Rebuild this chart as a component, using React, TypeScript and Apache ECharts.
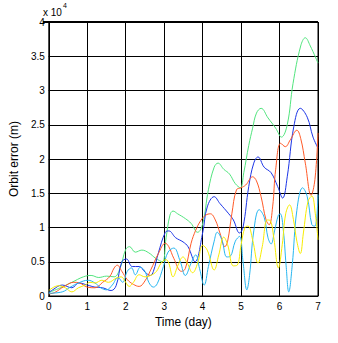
import React, { useEffect, useRef } from "react";
import * as echarts from "echarts";

// Units: x in days, y in 10^4 m
const xTickValues = [0, 1, 2, 3, 4, 5, 6, 7];
const yTickValues = [0, 0.5, 1, 1.5, 2, 2.5, 3, 3.5, 4];
const seriesNames = ["S1", "S2", "S3", "S4", "S5"];
const seriesColors = ["#52e47e", "#1c35e6", "#ff5a28", "#26b6f0", "#f7ec00"];

const greenData: [number, number][] = [
  [0, 0.05], [0.3, 0.12], [0.6, 0.2], [0.9, 0.28], [1.1, 0.3], [1.3, 0.27], [1.5, 0.29], [1.7, 0.28],
  [1.85, 0.4], [2.0, 0.68], [2.1, 0.72], [2.25, 0.64], [2.42, 0.67], [2.6, 0.63], [2.78, 0.55], [2.95, 0.5],
  [3.05, 0.85], [3.15, 1.18], [3.23, 1.24], [3.35, 1.2], [3.55, 1.13], [3.7, 1.06], [3.87, 0.93],
  [4.0, 1.05], [4.15, 1.55], [4.3, 1.88], [4.4, 1.94], [4.55, 1.85], [4.7, 1.78], [4.85, 1.64],
  [4.98, 1.58], [5.07, 1.8], [5.2, 2.2], [5.3, 2.45], [5.4, 2.67], [5.52, 2.74], [5.7, 2.6],
  [5.9, 2.45], [6.05, 2.32], [6.2, 2.5], [6.35, 3.1], [6.55, 3.65], [6.67, 3.77], [6.8, 3.65], [7.0, 3.4],
];

const blueData: [number, number][] = [
  [0, 0.05], [0.1, 0.09], [0.35, 0.16], [0.6, 0.12], [0.78, 0.19], [1.0, 0.16], [1.2, 0.13],
  [1.4, 0.12], [1.62, 0.08], [1.75, 0.15], [1.9, 0.5], [2.02, 0.54], [2.17, 0.43], [2.35, 0.43],
  [2.5, 0.35], [2.64, 0.3], [2.72, 0.36], [2.85, 0.63], [3.03, 0.93], [3.12, 0.95], [3.3, 0.85],
  [3.49, 0.79], [3.62, 0.72], [3.8, 0.5], [4.0, 0.92], [4.12, 1.3], [4.3, 1.45], [4.45, 1.35],
  [4.68, 1.2], [4.8, 1.11], [4.96, 0.92], [5.05, 1.0], [5.2, 1.6], [5.33, 1.94], [5.44, 2.03],
  [5.6, 1.88], [5.78, 1.8], [5.95, 1.6], [6.08, 1.43], [6.2, 1.74], [6.37, 2.47], [6.54, 2.74],
  [6.72, 2.61], [6.87, 2.32], [7.0, 2.16],
];

const redData: [number, number][] = [
  [0, 0.03], [0.15, 0.05], [0.4, 0.14], [0.65, 0.2], [0.8, 0.19], [1.0, 0.13], [1.2, 0.12],
  [1.4, 0.2], [1.58, 0.28], [1.7, 0.41], [1.78, 0.45], [1.9, 0.36], [2.04, 0.24], [2.2, 0.17],
  [2.35, 0.14], [2.5, 0.22], [2.65, 0.38], [2.85, 0.62], [3.03, 0.77], [3.12, 0.72], [3.25, 0.55],
  [3.45, 0.36], [3.55, 0.4], [3.7, 0.77], [3.82, 0.96], [3.95, 1.1], [4.08, 1.18], [4.2, 1.2],
  [4.33, 1.11], [4.45, 0.92], [4.58, 0.72], [4.65, 0.8], [4.76, 1.2], [4.88, 1.55], [5.0, 1.58],
  [5.12, 1.62], [5.3, 1.74], [5.4, 1.68], [5.52, 1.45], [5.65, 1.11], [5.73, 1.04], [5.82, 1.3],
  [5.9, 1.85], [6.03, 2.23], [6.15, 2.18], [6.28, 2.28], [6.45, 2.42], [6.55, 2.3], [6.67, 1.94],
  [6.82, 1.47], [6.92, 1.7], [7.0, 2.38],
];

const cyanData: [number, number][] = [
  [0, 0.04], [0.35, 0.06], [0.56, 0.13], [0.77, 0.19], [1.02, 0.23], [1.2, 0.19], [1.35, 0.12],
  [1.5, 0.09], [1.65, 0.16], [1.8, 0.27], [1.92, 0.2], [2.04, 0.36], [2.15, 0.41], [2.25, 0.31],
  [2.38, 0.42], [2.5, 0.36], [2.6, 0.2], [2.72, 0.13], [2.82, 0.18], [2.98, 0.43], [3.1, 0.64],
  [3.25, 0.7], [3.42, 0.5], [3.55, 0.3], [3.7, 0.48], [3.82, 0.6], [3.92, 0.4], [4.04, 0.16],
  [4.15, 0.43], [4.3, 0.8], [4.38, 0.93], [4.5, 0.82], [4.63, 0.57], [4.72, 0.58], [4.85, 0.8],
  [4.96, 0.87], [5.05, 0.5], [5.15, 0.09], [5.22, 0.3], [5.33, 0.95], [5.47, 1.26], [5.6, 1.15],
  [5.7, 0.85], [5.78, 0.76], [5.87, 0.95], [5.97, 1.18], [6.02, 1.2], [6.1, 0.95], [6.17, 0.45],
  [6.24, 0.06], [6.33, 0.45], [6.45, 1.25], [6.6, 1.58], [6.72, 1.45], [6.84, 1.04], [6.92, 1.02],
  [7.0, 1.48],
];

const yellowData: [number, number][] = [
  [0, 0.08], [0.25, 0.15], [0.43, 0.12], [0.6, 0.06], [0.77, 0.12], [0.95, 0.16], [1.07, 0.2],
  [1.2, 0.19], [1.38, 0.23], [1.55, 0.2], [1.75, 0.26], [1.88, 0.28], [2.0, 0.2], [2.09, 0.14],
  [2.2, 0.2], [2.35, 0.31], [2.5, 0.28], [2.65, 0.3], [2.8, 0.36], [2.92, 0.48], [3.05, 0.53],
  [3.12, 0.48], [3.23, 0.28], [3.36, 0.45], [3.49, 0.57], [3.6, 0.48], [3.74, 0.34], [3.87, 0.48],
  [4.0, 0.74], [4.12, 0.67], [4.3, 0.38], [4.42, 0.6], [4.55, 0.86], [4.65, 0.75], [4.8, 0.44],
  [4.9, 0.45], [5.0, 0.75], [5.1, 1.0], [5.18, 1.02], [5.3, 0.82], [5.44, 0.48], [5.55, 0.72],
  [5.68, 1.11], [5.76, 1.1], [5.85, 0.85], [5.97, 0.41], [6.07, 0.75], [6.16, 1.2], [6.26, 1.33],
  [6.36, 1.12], [6.45, 0.8], [6.54, 0.62], [6.62, 0.92], [6.74, 1.38], [6.84, 1.46], [6.93, 1.2],
  [7.0, 0.82],
];

const allData = [greenData, blueData, redData, cyanData, yellowData];

export default function App() {
  const ref = useRef<HTMLDivElement>(null);
  useEffect(() => {
    document.body.style.margin = "0";
    const chart = echarts.init(ref.current!, null, { renderer: "svg" });
    const font = "Liberation Sans, Arial, Helvetica, sans-serif";
    chart.setOption({
      animation: false,
      backgroundColor: "#ffffff",
      textStyle: { fontFamily: font },
      grid: {
        left: 43, top: 22, width: 275, height: 274,
        show: true, borderColor: "#000", borderWidth: 1, backgroundColor: "#fff",
      },
      xAxis: {
        type: "value",
        min: xTickValues[0],
        max: xTickValues[xTickValues.length - 1],
        interval: 1,
        name: "Time (day)",
        nameLocation: "middle",
        nameGap: 20,
        nameTextStyle: { fontSize: 12, color: "#000", fontFamily: font },
        axisLine: { show: true, lineStyle: { color: "#000", width: 1 } },
        axisTick: { show: true, inside: true, length: 3, lineStyle: { color: "#000" } },
        axisLabel: { fontSize: 10, color: "#000", margin: 5, fontFamily: font },
        splitLine: { show: true, lineStyle: { color: "#000", width: 1 } },
      },
      yAxis: {
        type: "value",
        min: yTickValues[0],
        max: yTickValues[yTickValues.length - 1],
        interval: 0.5,
        name: "Orbit error (m)",
        nameLocation: "middle",
        nameGap: 25,
        nameTextStyle: { fontSize: 12, color: "#000", fontFamily: font },
        axisLine: { show: true, lineStyle: { color: "#000", width: 1 } },
        axisTick: { show: true, inside: true, length: 3, lineStyle: { color: "#000" } },
        axisLabel: { fontSize: 10, color: "#000", margin: 4, fontFamily: font },
        splitLine: { show: true, lineStyle: { color: "#000", width: 1 } },
      },
      graphic: [
        { type: "text", left: 43, top: 7, style: { text: "x 10", fontSize: 10, fill: "#000", fontFamily: font } },
        { type: "text", left: 63, top: 2, style: { text: "4", fontSize: 7, fill: "#000", fontFamily: font } },
        { type: "line", shape: { x1: 43, y1: 22, x2: 318, y2: 22 }, style: { stroke: "#000", lineWidth: 2 }, z: 100 },
      ],
      series: allData.map((d, i) => ({
        name: seriesNames[i],
        type: "line",
        data: d,
        smooth: 0.4,
        showSymbol: false,
        lineStyle: { color: seriesColors[i], width: 1 },
        itemStyle: { color: seriesColors[i] },
        z: 2 + i,
      })),
    });
    return () => chart.dispose();
  }, []);
  return <div ref={ref} style={{ width: 338, height: 343 }} />;
}
